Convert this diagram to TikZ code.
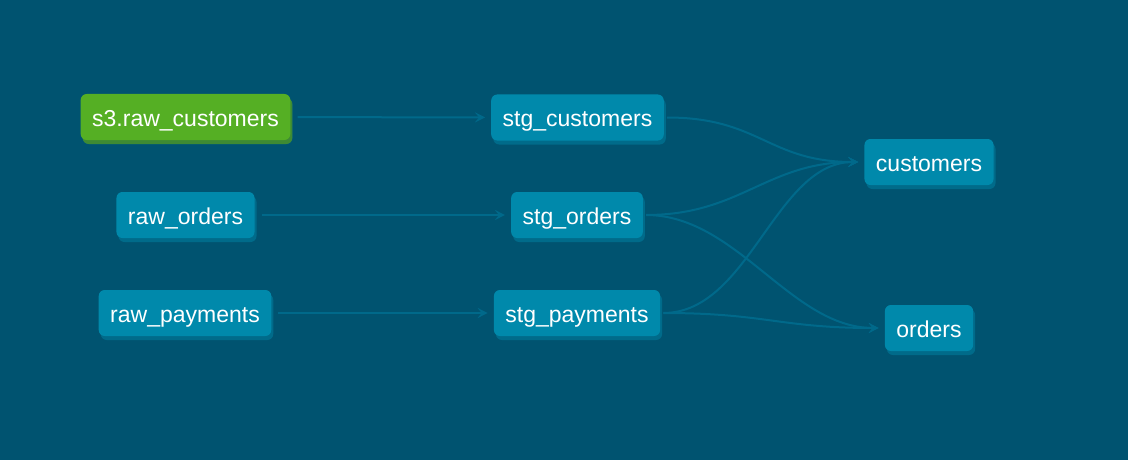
\documentclass[tikz,border=0pt]{standalone}
\usepackage{fontspec}
\setmainfont{Liberation Sans}
\usetikzlibrary{arrows.meta,shadows}
\definecolor{bg}{HTML}{005370}
\definecolor{nodeblue}{HTML}{0089AB}
\definecolor{nodeshadow}{HTML}{006B8A}
\definecolor{srcgreen}{HTML}{55AF24}
\definecolor{srcshadow}{HTML}{3E8A34}
\definecolor{edgecol}{HTML}{00698A}
\begin{document}
\begin{tikzpicture}[x=1pt,y=1pt,
  model/.style={rounded corners=6pt, fill=nodeblue, text=white,
    font=\fontsize{23}{26}\selectfont, minimum height=46pt,
    inner xsep=11.5pt, inner ysep=0pt, text height=20pt, text depth=2pt,
    drop shadow={shadow xshift=2pt, shadow yshift=-4pt, opacity=1, fill=nodeshadow}},
  source/.style={model, fill=srcgreen,
    drop shadow={shadow xshift=2pt, shadow yshift=-4pt, opacity=1, fill=srcshadow}},
  edge/.style={draw=edgecol, line width=2pt,
    -{Stealth[length=10pt,width=10pt,inset=4pt]}},
  straightedge/.style={edge, shorten <=7pt, shorten >=6pt},
  curveedge/.style={edge, shorten <=3pt, shorten >=6pt}]
\fill[bg] (0,0) rectangle (1128,-460);
\useasboundingbox (0,0) rectangle (1128,-460);

\node[source] (s3) at (185.5,-117) {s3.raw\_customers};
\node[model] (rawo) at (185.5,-215) {raw\_orders};
\node[model] (rawp) at (185,-313) {raw\_payments};
\node[model] (stgc) at (577.5,-117.5) {stg\_customers};
\node[model] (stgo) at (577,-215) {stg\_orders};
\node[model] (stgp) at (577,-313) {stg\_payments};
\node[model] (cust) at (929,-162) {customers};
\node[model] (ord) at (929,-328) {orders};

\draw[straightedge] (s3) -- (stgc);
\draw[straightedge] (rawo) -- (stgo);
\draw[straightedge] (rawp) -- (stgp);
\draw[curveedge] (stgc.east) to[out=0,in=180,looseness=1.2] (cust.west);
\draw[curveedge] (stgo.east) to[out=0,in=180,looseness=1.1] (cust.west);
\draw[curveedge] (stgp.east) to[out=0,in=180,looseness=0.9] (cust.west);
\draw[curveedge] (stgo.east) to[out=0,in=180,looseness=0.9] (ord.west);
\draw[curveedge] (stgp.east) to[out=0,in=180,looseness=1.2] (ord.west);
\end{tikzpicture}
\end{document}
